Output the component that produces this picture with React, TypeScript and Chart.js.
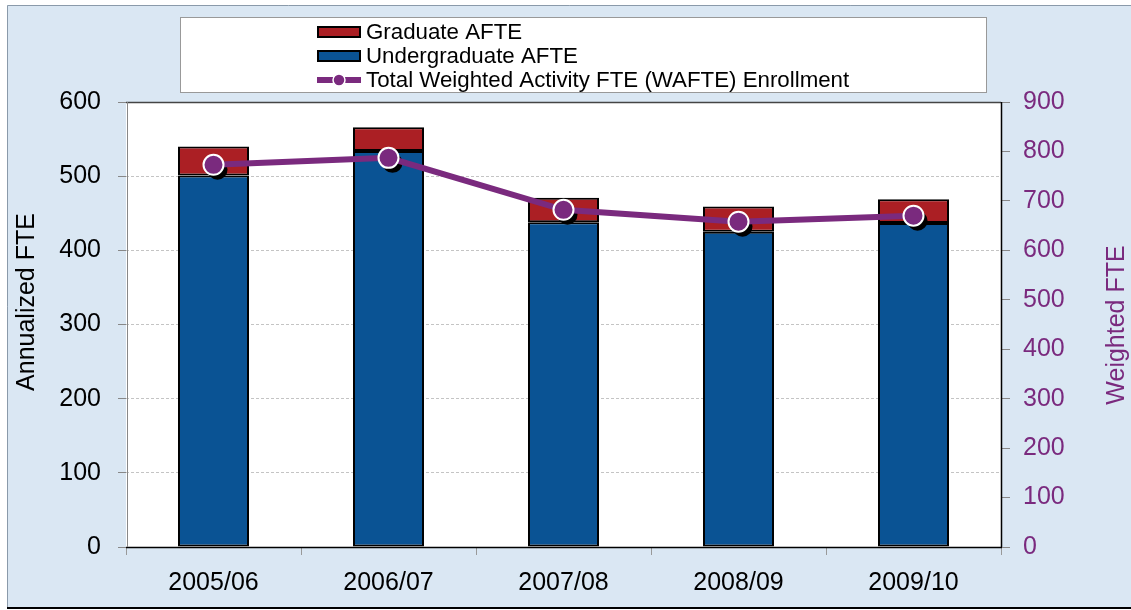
import React, { useEffect, useRef } from "react";
import { Chart, registerables } from "chart.js";

Chart.register(...registerables);

const categories = ["2005/06", "2006/07", "2007/08", "2008/09", "2009/10"];
const undergraduateAFTE = [501, 534, 438, 425, 437];
const graduateAFTE = [39, 32, 33, 34, 32];
const totalWAFTE = [773, 787, 682, 658, 670];
const leftTicks = [0, 100, 200, 300, 400, 500, 600];
const rightTicks = [0, 100, 200, 300, 400, 500, 600, 700, 800, 900];

const RED = "#ab1f24";
const BLUE = "#0a5394";
const PURPLE = "#7a2a7e";
const FONT = "'Liberation Sans', Arial, sans-serif";

const W = 1131;
const H = 610;

const framePlugin = {
  id: "framePlugin",
  beforeDraw(chart: any) {
    const ctx = chart.ctx;
    const a = chart.chartArea;
    ctx.save();
    ctx.fillStyle = "#ffffff";
    ctx.fillRect(0, 0, W, H);
    ctx.fillStyle = "#dae7f3";
    ctx.fillRect(7, 5, W - 7, 603);
    ctx.strokeStyle = "#8a9aaa";
    ctx.lineWidth = 1;
    ctx.beginPath();
    ctx.moveTo(7.5, 608);
    ctx.lineTo(7.5, 5.5);
    ctx.lineTo(W, 5.5);
    ctx.stroke();
    ctx.strokeStyle = "#000";
    ctx.lineWidth = 2;
    ctx.beginPath();
    ctx.moveTo(7, 608);
    ctx.lineTo(W, 608);
    ctx.stroke();
    ctx.fillStyle = "#ffffff";
    ctx.fillRect(a.left, a.top, a.right - a.left, a.bottom - a.top);
    // legend box
    ctx.fillRect(180, 17, 806, 75);
    ctx.strokeStyle = "#999";
    ctx.lineWidth = 1;
    ctx.strokeRect(180.5, 17.5, 806, 75);
    ctx.restore();
  },
  beforeDatasetDraw(chart: any, args: any) {
    const ds = chart.data.datasets[args.index];
    if (ds.type !== "line") return;
    const ctx = chart.ctx;
    ctx.save();
    ctx.fillStyle = "#000";
    args.meta.data.forEach((p: any) => {
      ctx.beginPath();
      ctx.arc(p.x + 4, p.y + 5, 10, 0, Math.PI * 2);
      ctx.fill();
    });
    ctx.restore();
  },
  afterDraw(chart: any) {
    const ctx = chart.ctx;
    const a = chart.chartArea;
    ctx.save();
    // plot frame
    ctx.lineWidth = 1.5;
    ctx.strokeStyle = "#444";
    ctx.beginPath();
    ctx.moveTo(a.left, a.top + 0.5);
    ctx.lineTo(a.right, a.top + 0.5);
    ctx.stroke();
    ctx.strokeStyle = "#000";
    ctx.beginPath();
    ctx.moveTo(a.right + 0.5, a.top);
    ctx.lineTo(a.right + 0.5, a.bottom);
    ctx.moveTo(a.left, a.bottom + 0.5);
    ctx.lineTo(a.right + 1, a.bottom + 0.5);
    ctx.stroke();
    ctx.strokeStyle = "#888";
    ctx.lineWidth = 1;
    ctx.beginPath();
    ctx.moveTo(a.left + 1.5, a.top);
    ctx.lineTo(a.left + 1.5, a.bottom);
    ctx.stroke();

    // axis titles
    ctx.font = `25px ${FONT}`;
    ctx.textAlign = "center";
    ctx.textBaseline = "middle";
    ctx.fillStyle = "#000";
    ctx.save();
    ctx.translate(27, 302);
    ctx.rotate(-Math.PI / 2);
    ctx.fillText("Annualized FTE", 0, 0);
    ctx.restore();
    ctx.fillStyle = PURPLE;
    ctx.save();
    ctx.translate(1117, 325);
    ctx.rotate(-Math.PI / 2);
    ctx.fillText("Weighted FTE", 0, 0);
    ctx.restore();

    // legend
    const ds = chart.data.datasets;
    const rows = [
      { d: ds[2], y: 32 },
      { d: ds[1], y: 56 },
      { d: ds[0], y: 80 },
    ];
    ctx.font = `22.3px ${FONT}`;
    ctx.textAlign = "left";
    ctx.textBaseline = "middle";
    rows.forEach((r) => {
      if (r.d.type === "line") {
        ctx.strokeStyle = r.d.borderColor;
        ctx.lineWidth = 6;
        ctx.beginPath();
        ctx.moveTo(317, r.y);
        ctx.lineTo(361, r.y);
        ctx.stroke();
        ctx.fillStyle = r.d.pointBackgroundColor;
        ctx.strokeStyle = "#fff";
        ctx.lineWidth = 1.5;
        ctx.beginPath();
        ctx.arc(339, r.y, 6, 0, Math.PI * 2);
        ctx.fill();
        ctx.stroke();
      } else {
        ctx.fillStyle = r.d.backgroundColor;
        ctx.fillRect(318, r.y - 5, 42, 10);
        ctx.strokeStyle = "#000";
        ctx.lineWidth = 2;
        ctx.strokeRect(318, r.y - 5, 42, 10);
      }
      ctx.fillStyle = "#000";
      ctx.fillText(r.d.label, 366, r.y + 1);
    });
    ctx.restore();
  },
};

export default function App() {
  const ref = useRef<HTMLCanvasElement>(null);
  useEffect(() => {
    document.body.style.margin = "0";
    const chart = new Chart(ref.current as HTMLCanvasElement, {
      type: "bar",
      data: {
        labels: categories,
        datasets: [
          {
            type: "line",
            label: "Total Weighted Activity FTE (WAFTE) Enrollment",
            data: totalWAFTE,
            yAxisID: "y1",
            borderColor: PURPLE,
            borderWidth: 6,
            pointRadius: 10,
            pointBackgroundColor: PURPLE,
            pointBorderColor: "#ffffff",
            pointBorderWidth: 2,
            tension: 0,
            order: 0,
          } as any,
          {
            type: "bar",
            label: "Undergraduate AFTE",
            data: undergraduateAFTE,
            backgroundColor: BLUE,
            borderColor: "#000",
            borderWidth: 2,
            borderSkipped: false,
            barPercentage: 0.406,
            categoryPercentage: 1,
            stack: "s",
            order: 1,
          },
          {
            type: "bar",
            label: "Graduate AFTE",
            data: graduateAFTE,
            backgroundColor: RED,
            borderColor: "#000",
            borderWidth: 2,
            borderSkipped: false,
            barPercentage: 0.406,
            categoryPercentage: 1,
            stack: "s",
            order: 1,
          },
        ],
      },
      options: {
        responsive: false,
        animation: false,
        layout: { padding: { top: 102, left: 0, right: 0, bottom: 0 } },
        plugins: { legend: { display: false }, tooltip: { enabled: false } },
        scales: {
          x: {
            stacked: true,
            offset: true,
            grid: {
              offset: true,
              drawOnChartArea: false,
              color: "#999",
              tickLength: 8,
            },
            border: { display: false },
            ticks: { color: "#000", font: { size: 25, family: FONT }, padding: 13 },
            afterFit: (s: any) => {
              s.height = 63;
            },
          },
          y: {
            stacked: true,
            position: "left",
            min: 0,
            max: 600,
            afterBuildTicks: (s: any) => {
              s.ticks = leftTicks.map((v) => ({ value: v }));
            },
            grid: {
              color: (c: any) => (c.tick && (c.tick.value === 0 || c.tick.value === 600) ? "rgba(0,0,0,0)" : "#c4c4c4"),
              tickColor: "#888",
              tickLength: 8,
            },
            border: { display: false, dash: [3, 2] },
            ticks: { color: "#000", font: { size: 25, family: FONT }, padding: 17 },
            afterFit: (s: any) => {
              s.width = 126;
            },
          },
          y1: {
            position: "right",
            min: 0,
            max: 900,
            stacked: false,
            afterBuildTicks: (s: any) => {
              s.ticks = rightTicks.map((v) => ({ value: v }));
            },
            grid: { drawOnChartArea: false, tickColor: "#888", tickLength: 9 },
            border: { display: false },
            ticks: { color: PURPLE, font: { size: 25, family: FONT }, padding: 13 },
            afterFit: (s: any) => {
              s.width = 130;
            },
          },
        },
      },
      plugins: [framePlugin],
    } as any);
    return () => chart.destroy();
  }, []);
  return (
    <div style={{ position: "absolute", left: 0, top: 0, width: W, height: H }}>
      <canvas ref={ref} width={W} height={H} />
    </div>
  );
}
